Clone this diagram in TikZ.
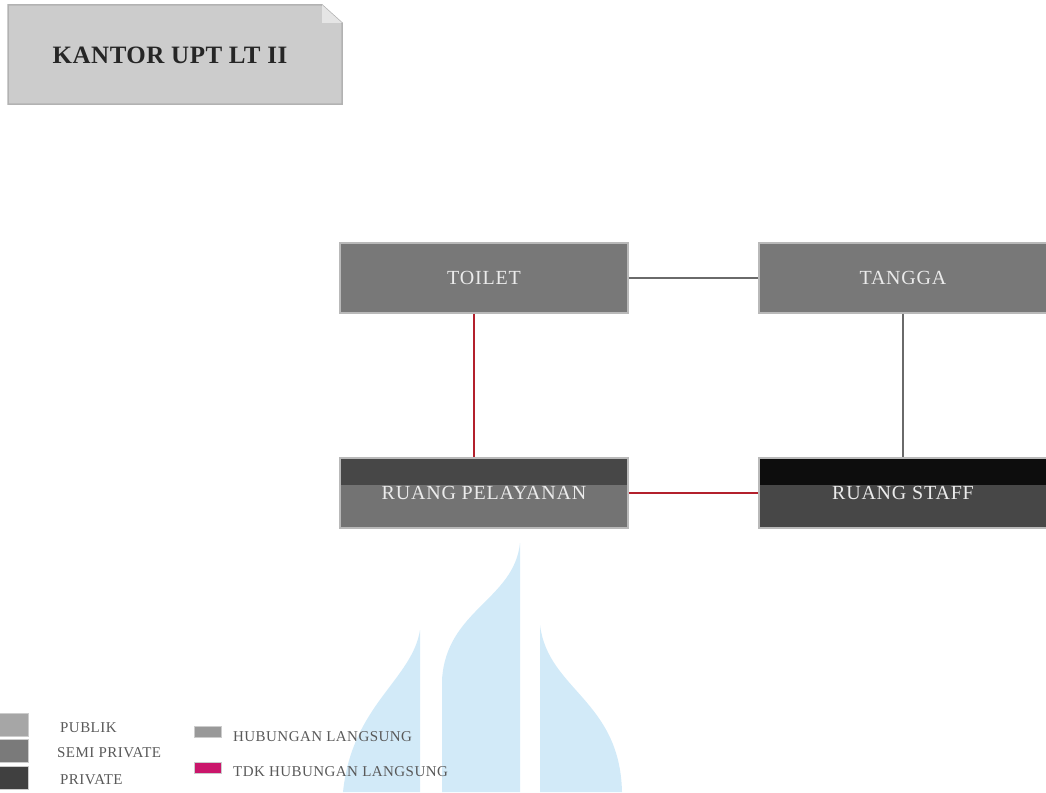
\documentclass[tikz,border=0pt]{standalone}
\usepackage{fontspec}
\setmainfont{Liberation Serif}
\usetikzlibrary{positioning}
\definecolor{publik}{HTML}{787878}
\definecolor{garis}{HTML}{6A6A6A}
\definecolor{merah}{HTML}{B3202C}
\definecolor{logo}{HTML}{D2EAF8}
\begin{document}
\begin{tikzpicture}[x=1pt,y=-1pt,
	ruang/.style={minimum width=288pt,minimum height=70pt,draw=gray!55,line width=1.5pt,
		text=white!92!black,font=\fontsize{20}{20}\selectfont\addfontfeature{LetterSpace=4}},
	tulisan/.style={text=white!92!black,font=\fontsize{20}{20}\selectfont\addfontfeature{LetterSpace=4}},
	langsung/.style={draw=garis,line width=2.5pt},
	tdk/.style={draw=merah,line width=2.5pt},
	kotak/.style={minimum width=29pt,minimum height=23pt,draw=gray!40,line width=1pt,inner sep=0pt},
	garisket/.style={minimum width=27pt,minimum height=11pt,draw=gray!40,line width=1pt,inner sep=0pt},
	ket/.style={anchor=west,text=black!65,font=\fontsize{15}{15}\selectfont\addfontfeature{LetterSpace=3},inner sep=0pt}]
	\useasboundingbox (0,0) rectangle (1046,792);
	\fill[logo] (343,792) .. controls (352,705) and (412,680) .. (420,630) -- (420,792) -- cycle;
	\fill[logo] (442,792) -- (442,680) .. controls (446,610) and (514,600) .. (520,543) -- (520,792) -- cycle;
	\fill[logo] (540,792) -- (540,625) .. controls (548,690) and (620,700) .. (622,792) -- cycle;
	\draw[fill=gray!40,draw=gray!60,line width=1.5pt] (8,5) -- (322,5) -- (342,23) -- (342,104) -- (8,104) -- cycle;
	\fill[gray!20] (322,5) -- (342,23) -- (322,23) -- cycle;
	\node[font=\bfseries\fontsize{25}{25}\selectfont\addfontfeature{LetterSpace=2},text=black!85] (judul) at (170,55) {KANTOR UPT LT II};
	\node[ruang,fill=publik] (toilet) at (484,278) {TOILET};
	\node[ruang,fill=publik] (tangga) at (903,278) {TANGGA};
	\node[ruang,fill=black!72,path picture={\fill[black!55] ([yshift=8pt]path picture bounding box.west) rectangle (path picture bounding box.south east);}] (pelayanan) at (484,493) {};
	\node[ruang,fill=black!95,path picture={\fill[black!72] ([yshift=8pt]path picture bounding box.west) rectangle (path picture bounding box.south east);}] (staff) at (903,493) {};
	\node[tulisan] at (pelayanan) {RUANG PELAYANAN};
	\node[tulisan] at (staff) {RUANG STAFF};
	\draw[langsung] (toilet) -- (tangga);
	\draw[langsung] (tangga) -- (staff);
	\draw[tdk] ([xshift=-10pt]toilet.south) -- ([xshift=-10pt]pelayanan.north);
	\draw[tdk] (pelayanan) -- (staff);
	\node[kotak,fill=black!35] (kpublik) at (14,725) {};
	\node[kotak,fill=black!52] (ksemi) at (14,751) {};
	\node[kotak,fill=black!75] (kprivate) at (14,778) {};
	\node[ket] (tpublik) at (60,728) {PUBLIK};
	\node[ket] (tsemi) at (57,753) {SEMI PRIVATE};
	\node[ket] (tprivate) at (60,780) {PRIVATE};
	\node[garisket,fill=black!40] (klangsung) at (208,732) {};
	\node[garisket,fill=merah!70!magenta] (ktdk) at (208,768) {};
	\node[ket] (tlangsung) at (233,737) {HUBUNGAN LANGSUNG};
	\node[ket] (ttdk) at (233,772) {TDK HUBUNGAN LANGSUNG};
\end{tikzpicture}
\end{document}
